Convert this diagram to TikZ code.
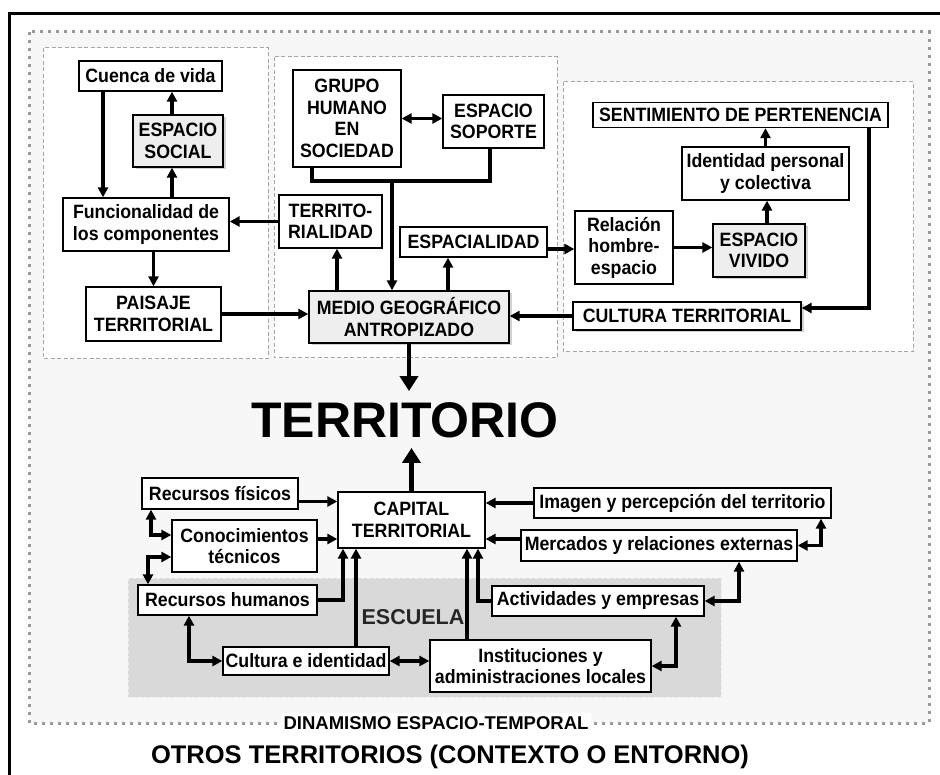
\documentclass[tikz,border=0pt]{standalone}
\usepackage{fontspec}
\setmainfont{Liberation Sans}
\newfontfamily\boxfont{Liberation Sans}[FakeStretch=0.92]
\usetikzlibrary{arrows.meta,shadows}
\definecolor{bggray}{HTML}{F7F7F7}
\definecolor{boxgray}{HTML}{EEEEEE}
\definecolor{schoolgray}{HTML}{D9D9D9}
\definecolor{framegray}{HTML}{A6A6A6}
\definecolor{dotgray}{HTML}{999999}

\begin{document}
\begin{tikzpicture}[x=1pt,y=-1pt,
    box/.style={draw=black,line width=1.3pt,fill=white,align=center,inner sep=2pt,
        font=\boxfont\fontsize{19.3}{21.5}\selectfont\bfseries},
    graybox/.style={box,fill=boxgray},
    shadowed/.style={drop shadow={opacity=0.35,shadow xshift=2.5pt,shadow yshift=-2.5pt}},
    arr/.style={line width=3.3pt,-{Triangle[length=10pt,width=10pt]}},
    dblarr/.style={line width=3.3pt,{Triangle[length=10pt,width=10pt]}-{Triangle[length=10pt,width=10pt]}},
    bigarr/.style={line width=4.5pt,-{Triangle[length=15pt,width=18pt]}},
    group/.style={draw=framegray,line width=1pt,dash pattern=on 4pt off 2.5pt,fill=white},
]
    \useasboundingbox (0,0) rectangle (940,775);
    \clip (0,0) rectangle (940,775);

    % frame
    \draw[line width=3pt] (9,800) -- (9,14) -- (960,14);
    % dynamic area
    \draw[dotgray,fill=bggray,line width=3pt,dash pattern=on 3pt off 5pt] (29,32) rectangle (929,723);
    \node[fill=white,inner sep=3pt,font=\fontsize{18.5}{20}\selectfont\bfseries] (dinamismo) at (436,723) {DINAMISMO ESPACIO-TEMPORAL};
    \node[font=\fontsize{25.5}{28}\selectfont\bfseries] (otros) at (450,757) {OTROS TERRITORIOS (CONTEXTO O ENTORNO)};

    % groups
    \draw[group] (43,48) rectangle (268,359);
    \draw[group] (274,57) rectangle (557,358);
    \draw[group] (563,82) rectangle (913,352);
    % escuela
    \draw[fill=schoolgray,draw=white!85!gray,line width=1pt,dashed] (128,578) rectangle (721,697);
    \node[text=black!85,font=\fontsize{21.5}{24}\selectfont\bfseries] (escuela) at (413,617) {ESCUELA};

    % left group
    \node[box,minimum width=143,minimum height=30] (cuenca) at (150.5,76) {Cuenca de vida};
    \node[graybox,shadowed,minimum width=90,minimum height=52] (esocial) at (178,141) {ESPACIO\\SOCIAL};
    \node[box,minimum width=166,minimum height=53] (funcion) at (146,224.5) {Funcionalidad de\\los componentes};
    \node[box,minimum width=135,minimum height=54] (paisaje) at (153.5,314) {PAISAJE\\TERRITORIAL};

    % middle group
    \node[box,minimum width=108,minimum height=97] (grupo) at (347,118.5) {GRUPO\\HUMANO\\EN\\SOCIEDAD};
    \node[box,minimum width=101,minimum height=53] (soporte) at (493.5,121.5) {ESPACIO\\SOPORTE};
    \node[box,minimum width=103,minimum height=53] (territ) at (330.5,221.5) {TERRITO-\\RIALIDAD};
    \node[box,minimum width=147,minimum height=30] (espacial) at (473.5,242) {ESPACIALIDAD};
    \node[graybox,shadowed,minimum width=200,minimum height=52] (medio) at (409,317) {MEDIO GEOGRÁFICO\\ANTROPIZADO};

    % right group
    \node[box,minimum width=295,minimum height=25] (sentim) at (740.5,115) {SENTIMIENTO DE PERTENENCIA};
    \node[box,minimum width=167,minimum height=53] (identidad) at (765.5,173.5) {Identidad personal\\y colectiva};
    \node[graybox,shadowed,minimum width=92,minimum height=53] (vivido) at (759,250.5) {ESPACIO\\VIVIDO};
    \node[box,minimum width=98,minimum height=73] (relacion) at (624,247.5) {Relación\\hombre-\\espacio};
    \node[box,shadowed,minimum width=228,minimum height=28] (cultterr) at (687,316) {CULTURA TERRITORIAL};

    % territorio
    \node[inner sep=0pt,font=\fontsize{50}{55}\selectfont\bfseries] (territorio) at (405,420) {TERRITORIO};

    % capital
    \node[box,minimum width=147,minimum height=56] (capital) at (411.5,520) {CAPITAL\\TERRITORIAL};
    \node[box,minimum width=156,minimum height=31] (fisicos) at (220,493.5) {Recursos físicos};
    \node[box,minimum width=145,minimum height=52] (conoc) at (244.5,546) {Conocimientos\\técnicos};
    \node[box,minimum width=179,minimum height=30] (humanos) at (227.5,600) {Recursos humanos};
    \node[box,minimum width=166,minimum height=28] (culturaid) at (306,661) {Cultura e identidad};
    \node[box,minimum width=221,minimum height=52] (instit) at (540.5,666) {Instituciones y\\administraciones locales};
    \node[box,minimum width=297,minimum height=30] (imagen) at (682.5,503) {Imagen y percepción del territorio};
    \node[box,minimum width=276,minimum height=31] (mercados) at (659,545.5) {Mercados y relaciones externas};
    \node[box,minimum width=212,minimum height=30] (activ) at (598,601) {Actividades y empresas};

    % left group arrows
    \draw[arr] ([xshift=-47.5pt]cuenca.south) -- ([xshift=-47.5pt]cuenca.south |- funcion.north);
    \draw[arr] ([xshift=-6pt]esocial.south |- funcion.north) -- ([xshift=-6pt]esocial.south);
    \draw[arr] ([xshift=-6pt]esocial.north) -- ([xshift=-6pt]esocial.north |- cuenca.south);
    \draw[arr] (paisaje.north |- funcion.south) -- (paisaje.north);
    \draw[arr] (paisaje.east) -- (paisaje.east -| medio.west);
    \draw[arr] (territ.west) -- (territ.west -| funcion.east);

    % middle group arrows
    \draw[dblarr] (grupo.east) -- (grupo.east -| soporte.west);
    \coordinate (join) at (392,181);
    \draw[line width=3.3pt] ([xshift=-35pt]grupo.south) |- (join) -| ([xshift=-3.5pt]soporte.south);
    \draw[arr] (join) -- (join |- medio.north);
    \draw[arr] ([xshift=6.5pt]territ.south |- medio.north) -- ([xshift=6.5pt]territ.south);
    \draw[arr] ([xshift=-25.5pt]espacial.south |- medio.north) -- ([xshift=-25.5pt]espacial.south);

    % right group arrows
    \draw[arr] ([yshift=-7pt]espacial.east) -- ([yshift=-7pt]espacial.east -| relacion.west);
    \draw[arr] (relacion.east) -- (relacion.east -| vivido.west);
    \draw[arr] ([xshift=8pt]vivido.north) -- ([xshift=8pt]vivido.north |- identidad.south);
    \draw[arr] (identidad.north) -- (identidad.north |- sentim.south);
    \draw[arr] ([xshift=128.5pt]sentim.south) |- ([yshift=8pt]cultterr.east);
    \draw[arr] (cultterr.west) -- (cultterr.west -| medio.east);

    % territorio arrows
    \draw[bigarr,shorten >=11pt] (medio.south) -- (medio.south |- territorio.north);
    \draw[bigarr,shorten >=10pt] (capital.north) -- (capital.north |- territorio.south);

    % capital arrows
    \draw[arr] ([yshift=-8pt]fisicos.east) -- ([yshift=-8pt]fisicos.east -| capital.west);
    \draw[arr] ([yshift=7pt]conoc.east) -- ([yshift=7pt]conoc.east -| capital.west);
    \draw[dblarr] ([xshift=-69pt]fisicos.south) |- ([yshift=11pt]conoc.west);
    \draw[dblarr] ([yshift=-11pt]conoc.west) -| ([xshift=-79.5pt]humanos.north);
    \draw[arr] (humanos.east) -| ([xshift=-68.5pt]capital.south);
    \draw[arr] ([xshift=50pt]culturaid.north) -- ([xshift=50pt]culturaid.north |- capital.south);
    \draw[dblarr] ([xshift=-38.5pt]humanos.south) |- (culturaid.west);
    \draw[dblarr] (culturaid.east) -- (culturaid.east -| instit.west);
    \draw[arr] ([xshift=-73.5pt]instit.north) -- ([xshift=-73.5pt]instit.north |- capital.south);
    \draw[arr] (activ.west) -| ([xshift=66.5pt]capital.south);
    \draw[arr] (imagen.west) -- (imagen.west -| capital.east);
    \draw[arr] ([yshift=6.5pt]mercados.west) -- ([yshift=6.5pt]mercados.west -| capital.east);
    \draw[dblarr] (mercados.east) -| ([xshift=138.5pt]imagen.south);
    \draw[dblarr] (activ.east) -| ([xshift=80pt]mercados.south);
    \draw[dblarr] (instit.east) -| ([xshift=78pt]activ.south);

\end{tikzpicture}
\end{document}
